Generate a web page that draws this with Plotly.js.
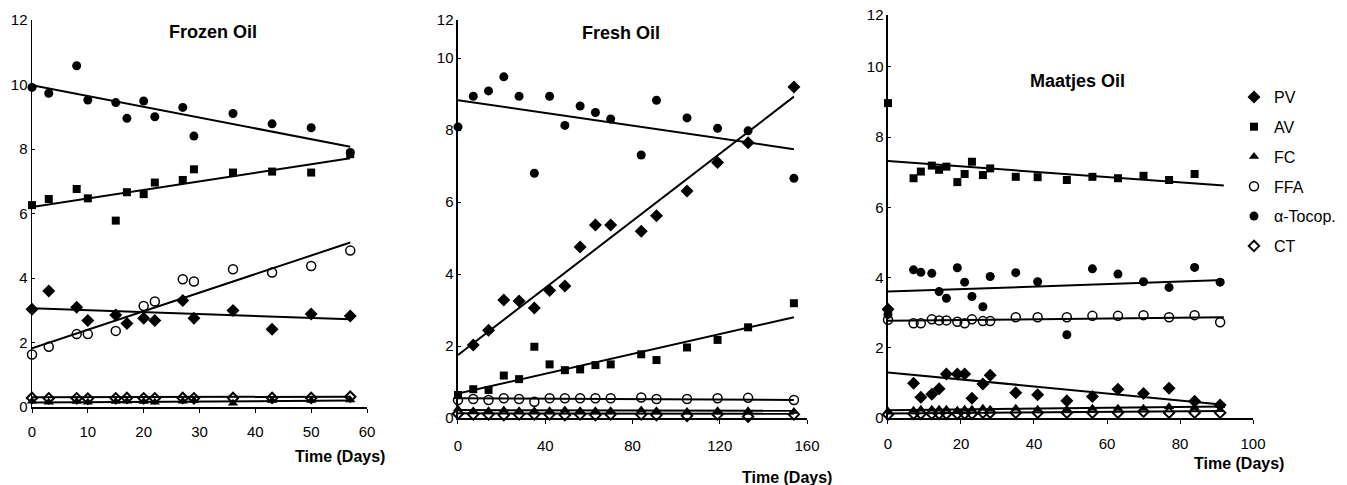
<!DOCTYPE html>
<html>
<head>
<meta charset="utf-8">
<script src="https://cdn.plot.ly/plotly-3.0.1.min.js"></script>
<style>html,body{margin:0;padding:0;background:#fff;}#chart{width:1347px;height:485px;}</style>
</head>
<body>
<div id="chart"></div>
<script>
// ---------- DATA ----------
var seriesNames = ["PV", "AV", "FC", "FFA", "α-Tocop.", "CT"];

// Frozen Oil
var fzDays = [0, 3, 8, 10, 15, 17, 20, 22, 27, 29, 36, 43, 50, 57];
var fzPV   = [3.03, 3.6, 3.09, 2.68, 2.85, 2.59, 2.75, 2.68, 3.3, 2.75, 2.99, 2.41, 2.88, 2.82];
var fzAV   = [6.26, 6.45, 6.76, 6.47, 5.78, 6.66, 6.6, 6.96, 7.04, 7.37, 7.27, 7.3, 7.27, 7.84];
var fzFC   = [0.18, 0.15, 0.17, 0.15, 0.17, 0.18, 0.17, 0.15, 0.18, 0.2, 0.12, 0.2, 0.2, 0.22];
var fzFFA  = [1.63, 1.87, 2.26, 2.26, 2.36, null, 3.13, 3.27, 3.96, 3.89, 4.27, 4.17, 4.37, 4.85];
var fzToc  = [9.91, 9.73, 10.58, 9.52, 9.44, 8.95, 9.49, 9.0, 9.29, 8.4, 9.1, 8.78, 8.66, 7.89];
var fzCT   = [0.28, 0.27, 0.27, 0.26, 0.27, 0.28, 0.27, 0.27, 0.28, 0.27, 0.28, 0.28, 0.28, 0.32];
// trend lines: value at first and last day
var fzTrendDays = [0, 57];
var fzTrendPV  = [3.06, 2.72];
var fzTrendAV  = [6.2, 7.71];
var fzTrendFC  = [0.14, 0.2];
var fzTrendFFA = [1.82, 5.1];
var fzTrendToc = [9.98, 8.07];
var fzTrendCT  = [0.3, 0.32];

// Fresh Oil
var frDays = [0, 7, 14, 21, 28, 35, 42, 49, 56, 63, 70, 84, 91, 105, 119, 133, 154];
var frPV   = [null, 2.03, 2.44, 3.28, 3.25, 3.06, 3.54, 3.67, 4.75, 5.36, 5.36, 5.19, 5.62, 6.31, 7.1, 7.65, 9.2];
var frAV   = [0.64, 0.8, 0.78, 1.18, 1.08, 1.98, 1.49, 1.33, 1.35, 1.47, 1.49, 1.77, 1.61, 1.96, 2.17, 2.52, 3.19];
var frFC   = [0.25, 0.2, 0.2, 0.22, 0.2, 0.2, 0.2, 0.22, 0.2, 0.2, 0.2, 0.22, 0.2, 0.18, 0.2, 0.2, 0.18];
var frFFA  = [0.5, 0.53, 0.5, 0.55, 0.53, 0.45, 0.55, 0.55, 0.55, 0.55, 0.55, 0.57, 0.53, 0.53, 0.55, 0.56, 0.5];
var frToc  = [8.09, 8.94, 9.09, 9.48, 8.94, 6.8, 8.94, 8.13, 8.67, 8.49, 8.31, 7.31, 8.83, 8.34, 8.05, 7.98, 6.66];
var frCT   = [0.12, 0.1, 0.1, 0.08, 0.1, 0.1, 0.1, 0.08, 0.1, 0.08, 0.1, 0.1, 0.08, 0.06, 0.1, 0.04, 0.1];
var frTrendDays = [0, 154];
var frTrendPV  = [1.75, 8.93];
var frTrendAV  = [0.68, 2.8];
var frTrendFC  = [0.22, 0.2];
var frTrendFFA = [0.55, 0.5];
var frTrendToc = [8.83, 7.47];
var frTrendCT  = [0.13, 0.12];

// Maatjes Oil
var maDays = [0, 7, 9, 12, 14, 16, 19, 21, 23, 26, 28, 35, 41, 49, 56, 63, 70, 77, 84, 91];
var maPV   = [3.1, 0.99, 0.59, 0.68, 0.83, 1.25, 1.25, 1.25, 0.56, 0.97, 1.22, 0.72, 0.66, 0.49, 0.61, 0.82, 0.7, 0.85, 0.48, 0.37];
var maAV   = [8.97, 6.83, 7.02, 7.19, 7.07, 7.16, 6.72, 6.95, 7.3, 6.92, 7.11, 6.87, 6.86, 6.78, 6.87, 6.83, 6.9, 6.78, 6.95, null];
var maFC   = [0.2, 0.22, 0.25, 0.25, 0.25, 0.25, 0.22, 0.25, 0.25, 0.28, 0.25, 0.28, 0.25, 0.25, 0.28, 0.28, 0.28, 0.32, 0.3, 0.35];
var maFFA  = [2.8, 2.7, 2.7, 2.81, 2.78, 2.78, 2.74, 2.7, 2.81, 2.76, 2.76, 2.87, 2.87, 2.87, 2.91, 2.91, 2.93, 2.87, 2.93, 2.73];
var maToc  = [2.95, 4.22, 4.15, 4.12, 3.6, 3.41, 4.28, 3.87, 3.46, 3.17, 4.03, 4.14, 3.88, 2.37, 4.25, 4.1, 3.88, 3.72, 4.29, 3.87];
var maCT   = [0.1, 0.12, 0.12, 0.12, 0.12, 0.12, 0.12, 0.12, 0.12, 0.15, 0.15, 0.15, 0.15, 0.15, 0.15, 0.15, 0.18, 0.15, 0.15, 0.15];
var maTrendDays = [0, 92];
var maTrendPV  = [1.3, 0.38];
var maTrendAV  = [7.32, 6.62];
var maTrendFC  = [0.22, 0.33];
var maTrendFFA = [2.77, 2.87];
var maTrendToc = [3.6, 3.93];
var maTrendCT  = [0.13, 0.2];

var panelTitles = ["Frozen Oil", "Fresh Oil", "Maatjes Oil"];
var xTitle = "Time (Days)";
var xTickVals1 = [0, 10, 20, 30, 40, 50, 60];
var xTickVals2 = [0, 40, 80, 120, 160];
var xTickVals3 = [0, 20, 40, 60, 80, 100];
var yTickText = ["0", "2", "4", "6", "8", "10", "12"];

// ---------- BUILD ----------
var FONT = "Liberation Sans, Arial, Helvetica, sans-serif";
var markerStyles = [
  {symbol: "diamond", size: 10, color: "#000"},
  {symbol: "square", size: 8, color: "#000"},
  {symbol: "triangle-up", size: 9, color: "#000"},
  {symbol: "circle-open", size: 9, color: "#000", line: {width: 1.5, color: "#000"}},
  {symbol: "circle", size: 9, color: "#000"},
  {symbol: "diamond-open", size: 8, color: "#000", line: {width: 2, color: "#000"}}
];

var panels = [
  {days: fzDays, vals: [fzPV, fzAV, fzFC, fzFFA, fzToc, fzCT], td: fzTrendDays,
   tr: [fzTrendPV, fzTrendAV, fzTrendFC, fzTrendFFA, fzTrendToc, fzTrendCT], xa: "x", ya: "y"},
  {days: frDays, vals: [frPV, frAV, frFC, frFFA, frToc, frCT], td: frTrendDays,
   tr: [frTrendPV, frTrendAV, frTrendFC, frTrendFFA, frTrendToc, frTrendCT], xa: "x2", ya: "y2"},
  {days: maDays, vals: [maPV, maAV, maFC, maFFA, maToc, maCT], td: maTrendDays,
   tr: [maTrendPV, maTrendAV, maTrendFC, maTrendFFA, maTrendToc, maTrendCT], xa: "x3", ya: "y3"}
];

var traces = [];
panels.forEach(function(p, pi) {
  p.tr.forEach(function(t, si) {
    traces.push({x: p.td, y: t, xaxis: p.xa, yaxis: p.ya, mode: "lines",
      line: {color: "#000", width: 2}, showlegend: false, hoverinfo: "skip", cliponaxis: false});
  });
  p.vals.forEach(function(v, si) {
    traces.push({x: p.days, y: v, xaxis: p.xa, yaxis: p.ya, mode: "markers",
      name: seriesNames[si], legendgroup: "g" + si, showlegend: pi === 2,
      marker: markerStyles[si], cliponaxis: false});
  });
});

function yAxis(domain, range, tickvals, anchor) {
  return {domain: domain, range: range, tickvals: tickvals, ticktext: yTickText, anchor: anchor,
    showgrid: false, zeroline: false, showline: true, linecolor: "#000", linewidth: 1.5,
    ticks: "inside", ticklen: 3, tickcolor: "#000",
    tickfont: {family: FONT, size: 15, color: "#000"}, fixedrange: true};
}
function xAxis(domain, range, tickvals, anchor, standoff) {
  return {domain: domain, range: range, tickvals: tickvals, anchor: anchor,
    showgrid: false, zeroline: false, showline: true, linecolor: "#000", linewidth: 1.5,
    ticks: "outside", ticklen: 4, tickcolor: "#000", ticklabelstandoff: standoff,
    tickfont: {family: FONT, size: 15, color: "#000"}, fixedrange: true};
}

function ann(text, xpx, ypx, size, xanchor) {
  return {text: "<b>" + text + "</b>", x: xpx / 1347, y: 1 - ypx / 485, xref: "paper", yref: "paper",
    xanchor: xanchor || "center", yanchor: "middle", showarrow: false,
    font: {family: FONT, size: size, color: "#000"}};
}

var layout = {
  width: 1347, height: 485,
  margin: {l: 0, r: 0, t: 0, b: 0},
  paper_bgcolor: "#fff", plot_bgcolor: "#fff",
  font: {family: FONT, color: "#000"},
  xaxis: xAxis([0.02376, 0.27246], [0, 60], xTickVals1, "y", 6),
  yaxis: yAxis([0.16082, 0.95876], [0, 12], [0, 2, 4, 6, 8, 10, 12], "x"),
  xaxis2: xAxis([0.34001, 0.59911], [0, 160], xTickVals2, "y2", 9),
  yaxis2: yAxis([0.13814, 0.95876], [0, 11.06], [0, 2, 4, 6, 8, 10, 11.06], "x2"),
  xaxis3: xAxis([0.65924, 0.93022], [0, 100], xTickVals3, "y3", 7),
  yaxis3: yAxis([0.13814, 0.96907], [0, 11.48], [0, 2, 4, 6, 8, 10, 11.48], "x3"),
  showlegend: true,
  legend: {x: 1234 / 1347, y: 1 - 80 / 485, xanchor: "left", yanchor: "top",
    font: {family: FONT, size: 16, color: "#000"}, tracegroupgap: 6,
    itemwidth: 30, bgcolor: "rgba(0,0,0,0)"},
  annotations: [
    ann(panelTitles[0], 213, 32, 18),
    ann(panelTitles[1], 621, 33, 18),
    ann(panelTitles[2], 1077, 81, 18),
    ann(xTitle, 340, 456, 16),
    ann(xTitle, 787, 477, 16),
    ann(xTitle, 1239, 463, 16)
  ]
};

Plotly.newPlot("chart", traces, layout, {displayModeBar: false, staticPlot: true});
</script>
</body>
</html>
